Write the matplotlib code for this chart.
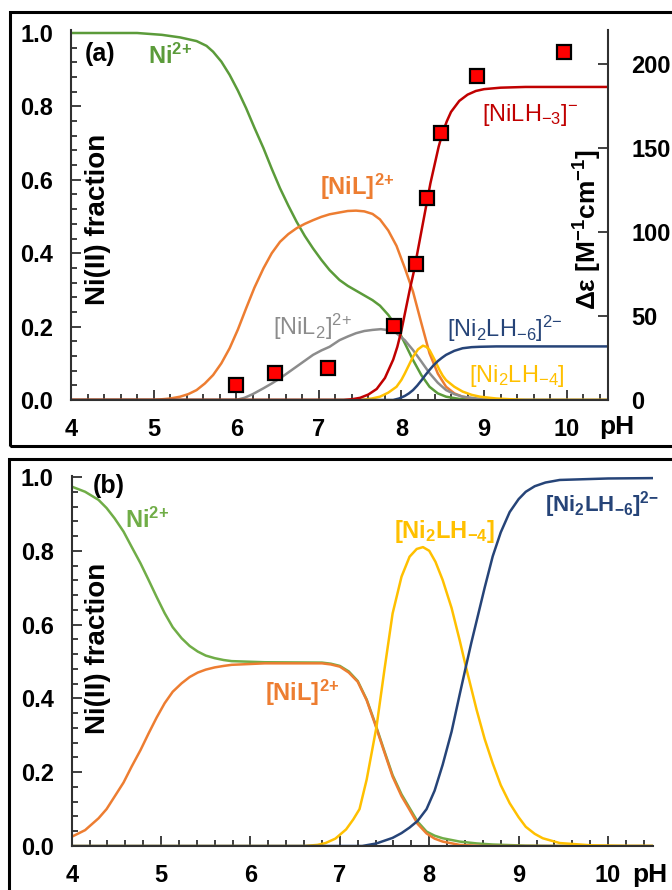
import numpy as np
import matplotlib
matplotlib.use("Agg")
import matplotlib.pyplot as plt
from matplotlib.ticker import MultipleLocator, FormatStrFormatter
from matplotlib.patches import Rectangle

plt.rcParams['font.family'] = ['Liberation Sans', 'DejaVu Sans']
plt.rcParams['font.weight'] = 'bold'
plt.rcParams['mathtext.default'] = 'regular'

# ---- panel (a) : speciation ----
ph_ni_a = [4.0, 4.8, 5.1, 5.32, 5.52, 5.64, 5.72, 5.82, 5.92, 6.02, 6.12, 6.22, 6.33, 6.43,
           6.53, 6.63, 6.73, 6.83, 6.93, 7.03, 7.13, 7.25, 7.35, 7.45, 7.55, 7.65, 7.74,
           7.84, 7.94, 8.04, 8.14, 8.24, 8.34, 8.44, 8.54, 8.7, 9.0, 10.5]
ni_a = [1.0, 1.0, 0.995, 0.988, 0.978, 0.965, 0.949, 0.922, 0.886, 0.843, 0.795, 0.742,
        0.686, 0.63, 0.577, 0.53, 0.486, 0.447, 0.413, 0.382, 0.354, 0.327, 0.311, 0.298,
        0.285, 0.272, 0.257, 0.232, 0.20, 0.155, 0.109, 0.068, 0.036, 0.018, 0.009, 0.003,
        0.0, 0.0]

ph_nil_a = [4.0, 5.0, 5.2, 5.32, 5.42, 5.52, 5.62, 5.72, 5.82, 5.92, 6.02, 6.12, 6.22, 6.33,
            6.43, 6.53, 6.63, 6.73, 6.83, 6.93, 7.03, 7.13, 7.25, 7.35, 7.45, 7.55, 7.65,
            7.74, 7.84, 7.94, 8.04, 8.14, 8.24, 8.34, 8.44, 8.54, 8.64, 8.74, 8.9, 9.1, 10.5]
nil_a = [0.0, 0.0, 0.004, 0.009, 0.016, 0.027, 0.045, 0.068, 0.1, 0.141, 0.192, 0.25, 0.306,
         0.359, 0.4, 0.431, 0.452, 0.468, 0.48, 0.49, 0.499, 0.506, 0.511, 0.515, 0.516,
         0.514, 0.507, 0.492, 0.462, 0.42, 0.36, 0.295, 0.21, 0.127, 0.072, 0.036, 0.018,
         0.009, 0.003, 0.0, 0.0]

ph_nil2_a = [4.0, 6.0, 6.1, 6.2, 6.33, 6.43, 6.53, 6.63, 6.73, 6.83, 6.93, 7.03, 7.13, 7.25,
             7.35, 7.45, 7.55, 7.65, 7.75, 7.85, 7.94, 8.04, 8.14, 8.24, 8.34, 8.44, 8.54,
             8.64, 8.74, 8.95, 9.2, 10.5]
nil2_a = [0.0, 0.0, 0.006, 0.016, 0.032, 0.045, 0.059, 0.075, 0.091, 0.107, 0.123, 0.135,
          0.145, 0.163, 0.173, 0.182, 0.188, 0.191, 0.193, 0.19, 0.182, 0.163, 0.136, 0.105,
          0.073, 0.047, 0.027, 0.016, 0.009, 0.003, 0.0, 0.0]

ph_nilh3_a = [4.0, 7.3, 7.4, 7.5, 7.6, 7.7, 7.8, 7.9, 7.95, 8.0, 8.05, 8.1, 8.15, 8.2, 8.25,
              8.3, 8.35, 8.4, 8.45, 8.5, 8.55, 8.6, 8.7, 8.8, 8.9, 9.0, 9.2, 9.5, 10.5]
nilh3_a = [0.0, 0.0, 0.002, 0.006, 0.015, 0.03, 0.06, 0.11, 0.145, 0.19, 0.245, 0.3, 0.35,
           0.41, 0.47, 0.53, 0.59, 0.64, 0.69, 0.73, 0.76, 0.785, 0.815, 0.832, 0.842, 0.847,
           0.851, 0.853, 0.853]

ph_ni2lh4_a = [4.0, 7.5, 7.64, 7.74, 7.84, 7.94, 8.0, 8.04, 8.09, 8.14, 8.2, 8.26, 8.3,
               8.34, 8.4, 8.46, 8.5, 8.54, 8.64, 8.74, 8.85, 8.95, 9.15, 9.5, 10.5]
ni2lh4_a = [0.0, 0.0, 0.004, 0.009, 0.02, 0.036, 0.055, 0.072, 0.095, 0.118, 0.138, 0.148,
            0.145, 0.136, 0.11, 0.082, 0.066, 0.054, 0.036, 0.023, 0.014, 0.009, 0.004,
            0.0, 0.0]

ph_ni2lh6_a = [4.0, 7.9, 7.97, 8.04, 8.09, 8.14, 8.19, 8.24, 8.29, 8.34, 8.39, 8.44, 8.49,
               8.54, 8.64, 8.74, 8.85, 8.95, 9.15, 10.5]
ni2lh6_a = [0.0, 0.0, 0.004, 0.011, 0.018, 0.027, 0.039, 0.053, 0.068, 0.082, 0.095, 0.106,
            0.115, 0.123, 0.134, 0.141, 0.144, 0.145, 0.146, 0.146]

# measured delta epsilon (right axis)
ph_exp = [6.0, 6.47, 7.11, 7.91, 8.17, 8.31, 8.48, 8.91, 9.97]
deps_exp = [9, 16, 19, 44, 81, 120, 159, 193, 207]

# ---- panel (b) ----
ph_ni_b = [4.0, 4.15, 4.3, 4.39, 4.48, 4.58, 4.67, 4.77, 4.86, 4.95, 5.04, 5.13, 5.23, 5.32,
           5.41, 5.5, 5.6, 5.7, 5.79, 6.16, 6.8, 6.9, 7.0, 7.1, 7.2, 7.3, 7.39, 7.49, 7.59,
           7.69, 7.78, 7.87, 7.97, 8.06, 8.15, 8.34, 8.53, 8.71, 9.08, 9.5, 10.5]
ni_b = [0.974, 0.96, 0.938, 0.916, 0.888, 0.852, 0.811, 0.766, 0.721, 0.675, 0.631, 0.593,
        0.563, 0.542, 0.527, 0.516, 0.509, 0.504, 0.501, 0.498, 0.497, 0.494, 0.488, 0.473,
        0.447, 0.397, 0.336, 0.263, 0.192, 0.14, 0.103, 0.066, 0.039, 0.028, 0.021, 0.012,
        0.007, 0.004, 0.001, 0.0, 0.0]

ph_nil_b = [4.0, 4.15, 4.3, 4.39, 4.48, 4.58, 4.67, 4.77, 4.86, 4.95, 5.04, 5.13, 5.23, 5.32,
            5.41, 5.5, 5.6, 5.7, 5.79, 6.16, 6.8, 6.9, 7.0, 7.1, 7.2, 7.3, 7.39, 7.49, 7.59,
            7.69, 7.78, 7.87, 7.97, 8.06, 8.15, 8.34, 8.6, 10.5]
nil_b = [0.025, 0.043, 0.075, 0.1, 0.134, 0.172, 0.215, 0.26, 0.305, 0.348, 0.387, 0.418,
         0.441, 0.458, 0.47, 0.478, 0.484, 0.488, 0.491, 0.495, 0.495, 0.492, 0.486, 0.47,
         0.445, 0.395, 0.333, 0.26, 0.188, 0.135, 0.098, 0.06, 0.034, 0.02, 0.012, 0.003,
         0.0, 0.0]

ph_ni2lh4_b = [4.0, 6.6, 6.75, 6.84, 6.95, 7.07, 7.15, 7.22, 7.3, 7.41, 7.5, 7.59, 7.69, 7.78,
               7.86, 7.93, 8.0, 8.07, 8.15, 8.25, 8.34, 8.41, 8.53, 8.62, 8.71, 8.8, 8.9,
               9.0, 9.08, 9.18, 9.27, 9.46, 9.8, 10.2, 10.5]
ni2lh4_b = [0.0, 0.0, 0.003, 0.008, 0.02, 0.045, 0.072, 0.1, 0.18, 0.323, 0.48, 0.63, 0.73,
            0.784, 0.805, 0.81, 0.80, 0.77, 0.721, 0.645, 0.558, 0.486, 0.369, 0.29, 0.224,
            0.165, 0.116, 0.078, 0.052, 0.033, 0.021, 0.008, 0.002, 0.0, 0.0]

ph_ni2lh6_b = [4.0, 7.25, 7.41, 7.59, 7.69, 7.78, 7.87, 7.97, 8.06, 8.15, 8.25, 8.34, 8.41,
               8.47, 8.53, 8.62, 8.71, 8.8, 8.9, 9.0, 9.08, 9.18, 9.3, 9.46, 10.0, 10.5]
ni2lh6_b = [0.0, 0.0, 0.007, 0.022, 0.035, 0.05, 0.068, 0.1, 0.15, 0.22, 0.31, 0.41, 0.486,
            0.55, 0.61, 0.7, 0.785, 0.85, 0.905, 0.94, 0.96, 0.975, 0.985, 0.992, 0.996, 0.997]

GREEN_A = '#5B9B3A'
GREEN_B = '#70AD47'
ORANGE = '#ED7D31'
GRAY = '#8C8C8C'
RED = '#C00000'
NAVY = '#264478'
YELLOW = '#FFC000'

W, H = 672, 890


def style_axes(ax, ytop):
    ax.set_xlim(4, 10.5)
    ax.set_ylim(0, ytop)
    ax.set_xticks(range(4, 11))
    ax.xaxis.set_minor_locator(MultipleLocator(0.2))
    ax.set_yticks(np.arange(0, 1.01, 0.2))
    ax.yaxis.set_major_formatter(FormatStrFormatter('%.1f'))
    ax.yaxis.set_minor_locator(MultipleLocator(0.04))
    ax.tick_params(which='both', direction='in', labelsize=17, width=1.3, color='#303030')
    ax.tick_params(which='major', length=7)
    ax.tick_params(which='minor', length=4)
    ax.tick_params(axis='x', pad=13)
    ax.tick_params(axis='y', pad=13)
    for s in ['top', 'right']:
        ax.spines[s].set_visible(False)
    for s in ['left', 'bottom']:
        ax.spines[s].set_linewidth(1.5)
        ax.spines[s].set_color('#303030')


fig = plt.figure(figsize=(W / 100, H / 100), dpi=100)

# ---------------- (a) ----------------
ax = fig.add_axes([71 / W, 490 / H, 537 / W, 370 / H])
style_axes(ax, 370 / 367)
lw = 1.8
ax.plot(ph_ni_a, ni_a, color=GREEN_A, lw=lw)
ax.plot(ph_nil_a, nil_a, color=ORANGE, lw=lw)
ax.plot(ph_nil2_a, nil2_a, color=GRAY, lw=lw)
ax.plot(ph_ni2lh4_a, ni2lh4_a, color=YELLOW, lw=lw)
ax.plot(ph_ni2lh6_a, ni2lh6_a, color=NAVY, lw=lw)
ax.plot(ph_nilh3_a, nilh3_a, color=RED, lw=lw)

ax2 = ax.twinx()
ax2.set_ylim(0, 370 / 336 * 200)
ax2.set_yticks(range(0, 201, 50))
ax2.tick_params(axis='y', direction='in', length=7, width=1.3, labelsize=17, pad=17,
                color='#303030')
for s in ['left', 'top', 'bottom']:
    ax2.spines[s].set_visible(False)
ax2.spines['right'].set_linewidth(1.5)
ax2.spines['right'].set_color('#303030')
ax2.plot(ph_exp, deps_exp, 's', color='red', ms=9.5, mec='black', mew=1.6, zorder=5)

ax.text(0.05, 0.489, 'Ni(II) fraction', transform=ax.transAxes, rotation=90,
        ha='center', va='center', fontsize=20)
ax2.text(0.963, 0.462, 'Δε [M$^{-1}$cm$^{-1}$]', transform=ax2.transAxes, rotation=90,
         ha='center', va='center', fontsize=19)

ax.text(4.17, 0.943, '(a)', fontsize=18, ha='left', va='center')
ax.text(4.93, 0.937, 'Ni$^{2{+}}$', fontsize=17, color=GREEN_A, ha='left', va='center')
ax.text(7.01, 0.58, '[NiL]$^{2{+}}$', fontsize=17, color=ORANGE, ha='left', va='center')
ax.text(6.44, 0.199, '[NiL$_2$]$^{2{+}}$', fontsize=17, color=GRAY, ha='left', va='center',
        fontweight='normal')
ax.text(8.98, 0.777, '[NiLH$_{−3}$]$^{−}$', fontsize=17, color=RED, ha='left', va='center',
        fontweight='normal')
ax.text(8.55, 0.193, '[Ni$_2$LH$_{−6}$]$^{2{−}}$', fontsize=17, color=NAVY, ha='left',
        va='center', fontweight='normal')
ax.text(8.82, 0.065, '[Ni$_2$LH$_{−4}$]', fontsize=17, color=YELLOW, ha='left', va='center',
        fontweight='normal')
fig.text(617 / W, 1 - 427 / H, 'pH', fontsize=19, ha='center', va='center')

# ---------------- (b) ----------------
bx = fig.add_axes([71.7 / W, 44 / H, 581 / W, 370 / H])
style_axes(bx, 370 / 369)
bx.plot(ph_ni_b, ni_b, color=GREEN_B, lw=lw)
bx.plot(ph_nil_b, nil_b, color=ORANGE, lw=lw)
bx.plot(ph_ni2lh4_b, ni2lh4_b, color=YELLOW, lw=lw)
bx.plot(ph_ni2lh6_b, ni2lh6_b, color=NAVY, lw=lw)

bx.text(0.045, 0.535, 'Ni(II) fraction', transform=bx.transAxes, rotation=90,
        ha='center', va='center', fontsize=20)
bx.text(4.23, 0.976, '(b)', fontsize=18, ha='left', va='center')
bx.text(4.60, 0.883, 'Ni$^{2{+}}$', fontsize=17, color=GREEN_B, ha='left', va='center')
bx.text(6.16, 0.415, '[NiL]$^{2{+}}$', fontsize=17, color=ORANGE, ha='left', va='center')
bx.text(7.61, 0.851, '[Ni$_2$LH$_{-4}$]', fontsize=17, color=YELLOW, ha='left', va='center')
bx.text(9.30, 0.924, '[Ni$_2$LH$_{-6}$]$^{2{-}}$', fontsize=16, color=NAVY, ha='left',
        va='center')
fig.text(650 / W, 1 - 875 / H, 'pH', fontsize=19, ha='center', va='center')

# panel frames
fig.add_artist(Rectangle((10 / W, 1 - 446 / H), 700 / W, 434 / H, transform=fig.transFigure,
                         fill=False, lw=2.2, ec='black'))
fig.add_artist(Rectangle((9 / W, -10 / H), 700 / W, (H - 459 + 10) / H,
                         transform=fig.transFigure, fill=False, lw=2.2, ec='black'))

fig.savefig('out.png', dpi=100)
